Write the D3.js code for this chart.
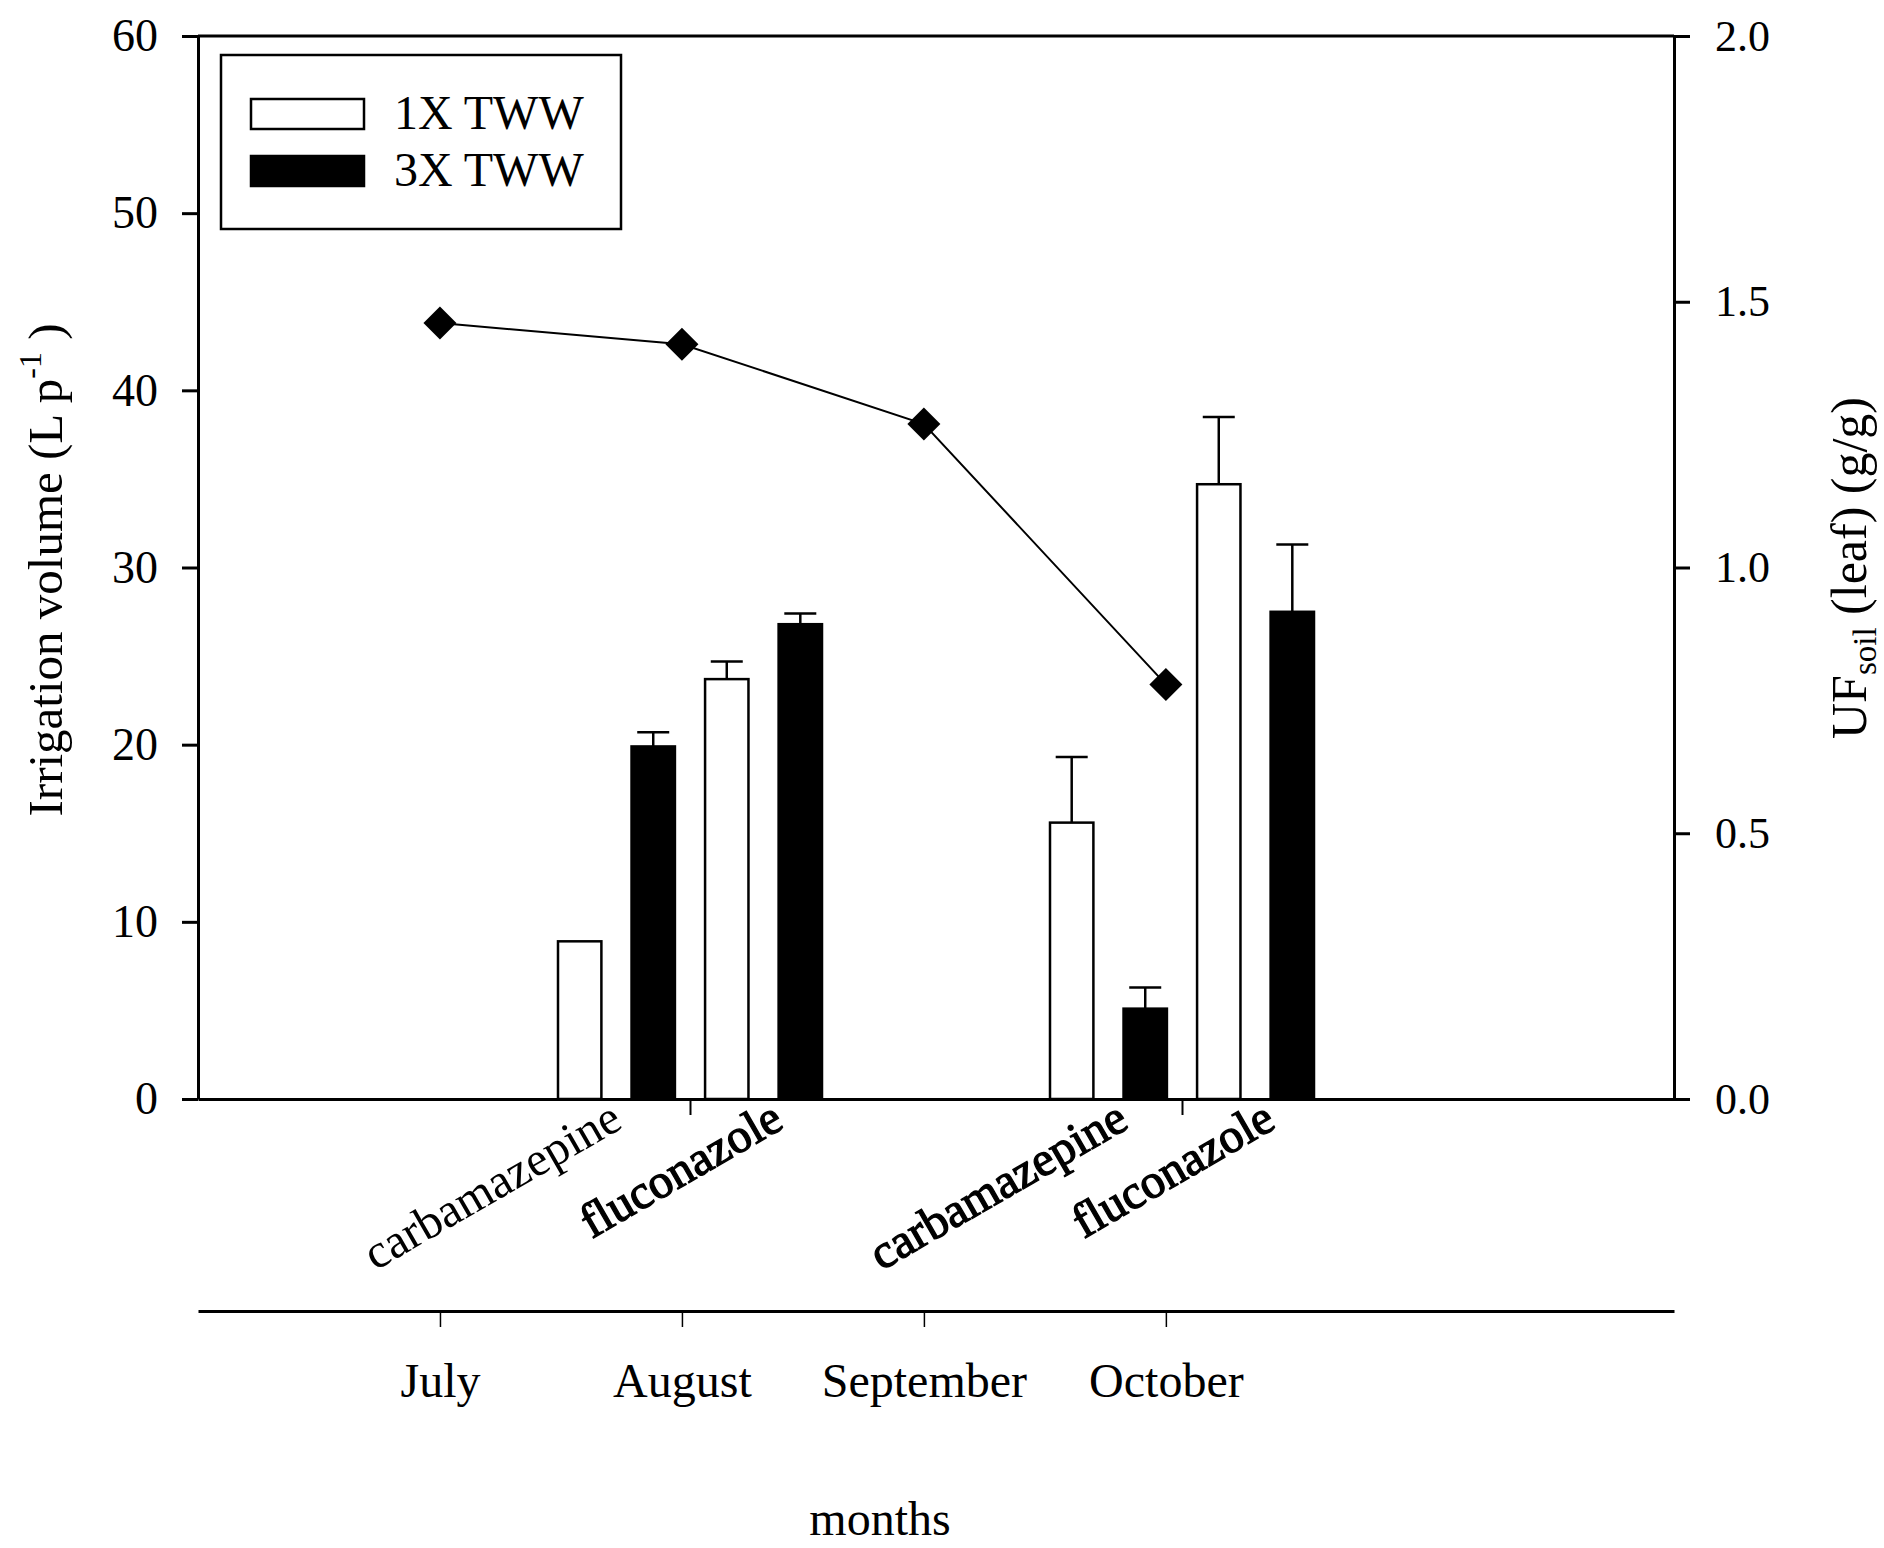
<!DOCTYPE html>
<html>
<head>
<meta charset="utf-8">
<script src="https://d3js.org/d3.v7.min.js"></script>
<style>
  body { margin: 0; background: #fff; }
  text { font-family: "Liberation Serif", "Times New Roman", serif; fill: #000; }
</style>
</head>
<body>
<script>
var width = 1884;
var height = 1548;

var margin = {
  top: 36,
  right: 210,
  bottom: 449,
  left: 198
};

var graphWidth = width - margin.left - margin.right;
var graphHeight = height - margin.top - margin.bottom;

// bar groups sit at 1 and 2 on the (hidden) drug axis
var groupPositions = [1, 2];
var drugNames = ["carbamazepine", "fluconazole"];
var seriesNames = ["1X TWW", "3X TWW"];

// irrigation volume (L p-1) with error, one value per group
var carb1x = [8.9, 15.6];
var carb1xErr = [0, 3.7];
var carb3x = [19.9, 5.1];
var carb3xErr = [0.8, 1.2];
var fluc1x = [23.7, 34.7];
var fluc1xErr = [1.0, 3.8];
var fluc3x = [26.8, 27.5];
var fluc3xErr = [0.6, 3.8];

// UF soil (leaf) per month
var monthNumbers = [7, 8, 9, 10];
var monthLabels = ["July", "August", "September", "October"];
var ufLeaf = [1.46, 1.42, 1.27, 0.78];

var leftTicks = [0, 10, 20, 30, 40, 50, 60];
var rightTicks = [0, 0.5, 1.0, 1.5, 2.0];

// one record per sub-bar kind
var barSeries = [
  { key: "carb1x", drug: 0, tww: 0, values: carb1x, errs: carb1xErr },
  { key: "carb3x", drug: 0, tww: 1, values: carb3x, errs: carb3xErr },
  { key: "fluc1x", drug: 1, tww: 0, values: fluc1x, errs: fluc1xErr },
  { key: "fluc3x", drug: 1, tww: 1, values: fluc3x, errs: fluc3xErr }
];

var bars = [];
barSeries.forEach(function(s) {
  groupPositions.forEach(function(pos, g) {
    bars.push({ key: s.key, drug: s.drug, tww: s.tww, group: g, pos: pos, value: s.values[g], err: s.errs[g] });
  });
});

var svg = d3.select("body")
            .append("svg")
            .attr("width", width)
            .attr("height", height)
            .style("background", "#fff");

var graphGroup = svg.append("g").attr("transform", `translate(${margin.left}, ${margin.top})`);

// scales
var xDrug = d3.scaleLinear().domain([0, 3]).range([0, graphWidth]);
var xMonth = d3.scaleLinear().domain([6, 12.1]).range([0, graphWidth]);
var yLeft = d3.scaleLinear().domain([0, 60]).range([graphHeight, 0]);
var yRight = d3.scaleLinear().domain([0, 2]).range([graphHeight, 0]);
var sub = d3.scaleBand()
            .domain(barSeries.map(function(s) { return s.key; }))
            .range([-132, 132])
            .paddingInner(0.41);

// top frame line
graphGroup.append("line")
          .attr("x1", 0).attr("x2", graphWidth)
          .attr("y1", 0).attr("y2", 0)
          .attr("stroke", "#000").attr("stroke-width", 3);

// bars
graphGroup.selectAll("rect.bar")
          .data(bars)
          .enter()
          .append("rect")
          .attr("class", "bar")
          .attr("x", function(d) { return xDrug(d.pos) + sub(d.key); })
          .attr("y", function(d) { return yLeft(d.value); })
          .attr("width", sub.bandwidth())
          .attr("height", function(d) { return graphHeight - yLeft(d.value); })
          .attr("fill", function(d) { return d.tww === 0 ? "#fff" : "#000"; })
          .attr("stroke", "#000")
          .attr("stroke-width", 2.5);

// error bars (upper only)
var errBars = bars.filter(function(d) { return d.err > 0; });
var capHalf = 16;

graphGroup.selectAll("line.err")
          .data(errBars)
          .enter()
          .append("line")
          .attr("class", "err")
          .attr("x1", function(d) { return xDrug(d.pos) + sub(d.key) + sub.bandwidth() / 2; })
          .attr("x2", function(d) { return xDrug(d.pos) + sub(d.key) + sub.bandwidth() / 2; })
          .attr("y1", function(d) { return yLeft(d.value); })
          .attr("y2", function(d) { return yLeft(d.value + d.err); })
          .attr("stroke", "#000").attr("stroke-width", 2.5);

graphGroup.selectAll("line.cap")
          .data(errBars)
          .enter()
          .append("line")
          .attr("class", "cap")
          .attr("x1", function(d) { return xDrug(d.pos) + sub(d.key) + sub.bandwidth() / 2 - capHalf; })
          .attr("x2", function(d) { return xDrug(d.pos) + sub(d.key) + sub.bandwidth() / 2 + capHalf; })
          .attr("y1", function(d) { return yLeft(d.value + d.err); })
          .attr("y2", function(d) { return yLeft(d.value + d.err); })
          .attr("stroke", "#000").attr("stroke-width", 2.5);

// UF line with diamonds
var ufPoints = monthNumbers.map(function(m, i) { return { month: m, uf: ufLeaf[i] }; });

var line = d3.line()
             .x(function(d) { return xMonth(d.month); })
             .y(function(d) { return yRight(d.uf); });

graphGroup.append("path")
          .datum(ufPoints)
          .attr("d", line)
          .attr("fill", "none")
          .attr("stroke", "#000")
          .attr("stroke-width", 2);

graphGroup.selectAll("path.diamond")
          .data(ufPoints)
          .enter()
          .append("path")
          .attr("class", "diamond")
          .attr("d", "M0,-16.5L16.5,0L0,16.5L-16.5,0Z")
          .attr("transform", function(d) { return `translate(${xMonth(d.month)}, ${yRight(d.uf)})`; })
          .attr("fill", "#000");

// axes
function styleAxis(g, fontSize, tickWidth) {
  g.select(".domain").attr("stroke", "#000").attr("stroke-width", 3);
  g.selectAll(".tick line").attr("stroke", "#000").attr("stroke-width", tickWidth);
  g.selectAll(".tick text")
   .style("font-family", '"Liberation Serif", "Times New Roman", serif')
   .style("font-size", fontSize + "px")
   .attr("fill", "#000");
}

var leftAxis = d3.axisLeft(yLeft)
                 .tickValues(leftTicks)
                 .tickSize(16)
                 .tickSizeOuter(0)
                 .tickPadding(24);

graphGroup.append("g")
          .call(leftAxis)
          .call(styleAxis, 46, 3);

var rightAxis = d3.axisRight(yRight)
                  .tickValues(rightTicks)
                  .tickFormat(d3.format(".1f"))
                  .tickSize(16)
                  .tickSizeOuter(0)
                  .tickPadding(25);

graphGroup.append("g")
          .attr("transform", `translate(${graphWidth}, 0)`)
          .call(rightAxis)
          .call(styleAxis, 44, 3);

var drugAxis = d3.axisBottom(xDrug)
                 .tickValues(groupPositions)
                 .tickSize(16)
                 .tickSizeOuter(0)
                 .tickFormat("");

graphGroup.append("g")
          .attr("transform", `translate(0, ${graphHeight})`)
          .call(drugAxis)
          .call(styleAxis, 44, 2);

// rotated drug names under each pair of bars
var drugLabels = [];
groupPositions.forEach(function(pos, g) {
  drugNames.forEach(function(name, k) {
    drugLabels.push({ name: name, pos: pos, drug: k, group: g });
  });
});

function isPlain(d) { return d.group === 0 && d.drug === 0; }

graphGroup.selectAll("text.drug")
          .data(drugLabels)
          .enter()
          .append("text")
          .attr("class", "drug")
          .attr("text-anchor", "end")
          .attr("transform", function(d) {
            var a = sub(barSeries[d.drug * 2].key);
            var b = sub(barSeries[d.drug * 2 + 1].key) + sub.bandwidth();
            var cx = xDrug(d.pos) + (a + b) / 2 + (isPlain(d) ? 8 : 22);
            return `translate(${cx}, ${graphHeight + 28}) rotate(-30)`;
          })
          .style("font-size", "48px")
          // the heavier labels are drawn with an outline, keeping the normal glyph width
          .attr("stroke", function(d) { return isPlain(d) ? "none" : "#000"; })
          .attr("stroke-width", 1.3)
          .text(function(d) { return d.name; });

// month axis below
var monthAxis = d3.axisBottom(xMonth)
                  .tickValues(monthNumbers)
                  .tickFormat(function(d, i) { return monthLabels[i]; })
                  .tickSize(16)
                  .tickSizeOuter(0)
                  .tickPadding(36);

graphGroup.append("g")
          .attr("transform", `translate(0, ${1311 - margin.top})`)
          .call(monthAxis)
          .call(styleAxis, 48, 1.5);

// axis titles
svg.append("text")
   .attr("text-anchor", "middle")
   .attr("transform", "translate(880, 1535)")
   .style("font-size", "48px")
   .text("months");

var leftTitle = svg.append("text")
                   .attr("text-anchor", "middle")
                   .attr("transform", "translate(62, 570) rotate(-90)")
                   .style("font-size", "49px");
leftTitle.append("tspan").text("Irrigation volume (L p");
leftTitle.append("tspan").attr("dy", -21).style("font-size", "32px").text("-1");
leftTitle.append("tspan").attr("dy", 21).text(" )");

var rightTitle = svg.append("text")
                    .attr("text-anchor", "middle")
                    .attr("transform", "translate(1866, 568) rotate(-90)")
                    .style("font-size", "50px");
rightTitle.append("tspan").text("UF");
rightTitle.append("tspan").attr("dy", 10).style("font-size", "33px").text("soil");
rightTitle.append("tspan").attr("dy", -10).text(" (leaf) (g/g)");

// legend
var legend = svg.append("g");
legend.append("rect")
      .attr("x", 221).attr("y", 55)
      .attr("width", 400).attr("height", 174)
      .attr("fill", "#fff").attr("stroke", "#000").attr("stroke-width", 2.5);

var legendItems = legend.selectAll("g.item")
                        .data(seriesNames)
                        .enter()
                        .append("g")
                        .attr("class", "item")
                        .attr("transform", function(d, i) { return `translate(251, ${99 + i * 57})`; });

legendItems.append("rect")
           .attr("width", 113).attr("height", 30)
           .attr("fill", function(d, i) { return i === 0 ? "#fff" : "#000"; })
           .attr("stroke", "#000").attr("stroke-width", 2.5);

legendItems.append("text")
           .attr("x", 143).attr("y", 30)
           .style("font-size", "48px")
           .text(function(d) { return d; });
</script>
</body>
</html>
